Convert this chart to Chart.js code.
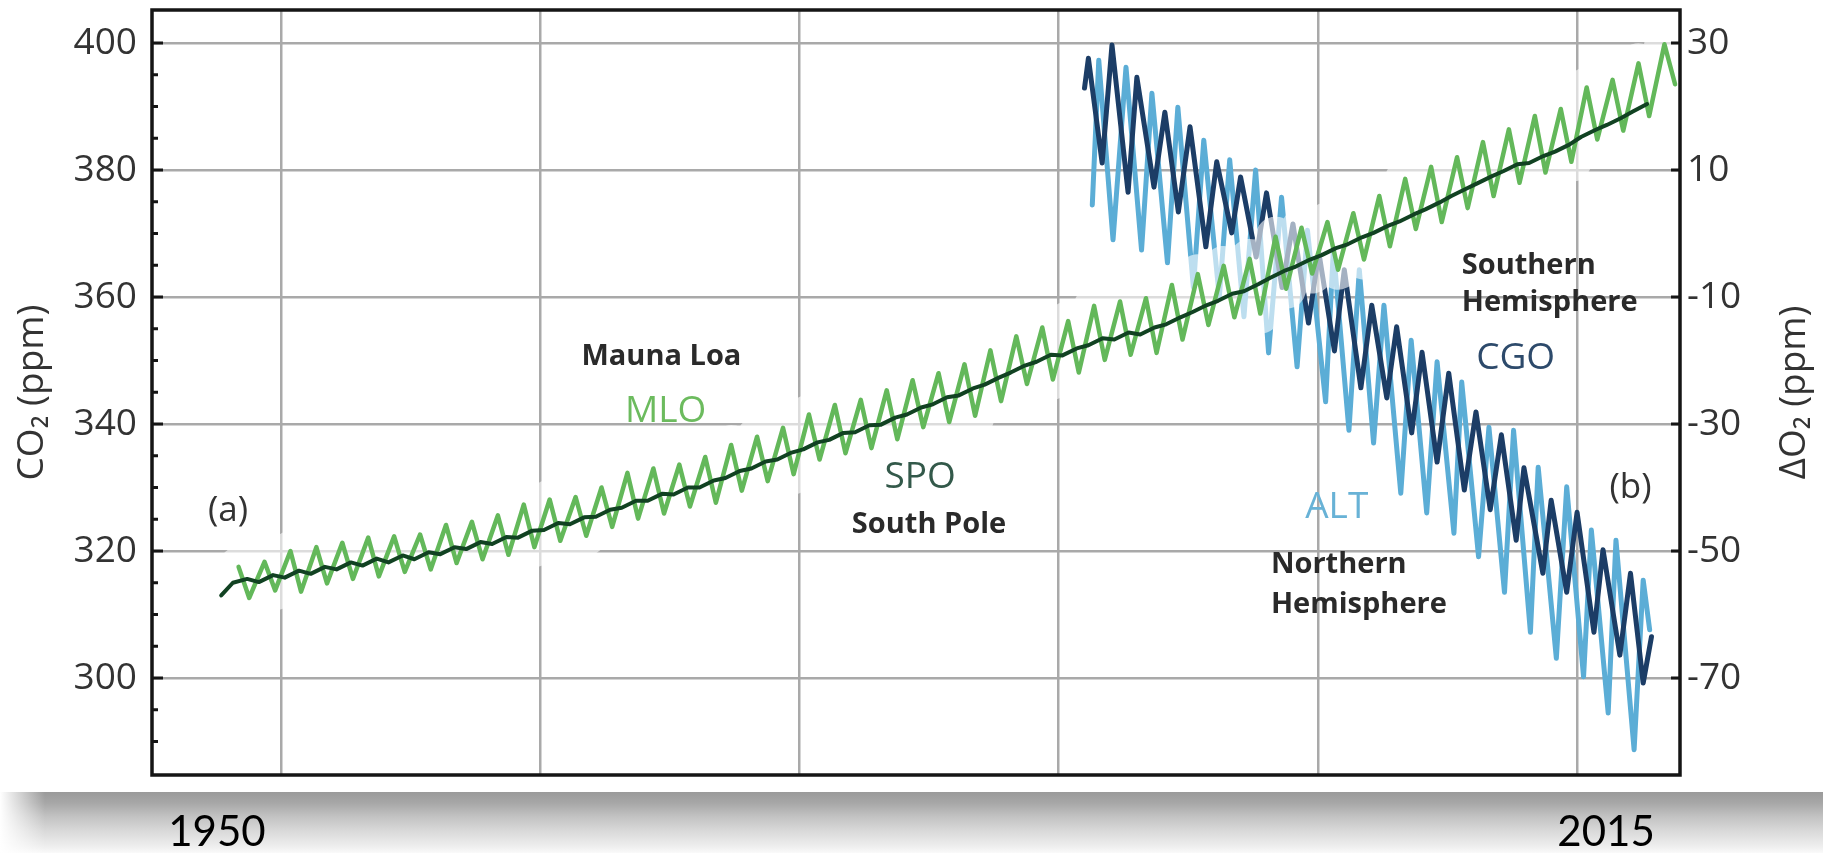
<!DOCTYPE html>
<html>
<head>
    <title>CO2 and O2 records</title>
    <script src="https://cdn.jsdelivr.net/npm/chart.js"></script>
    <style>
        html, body { margin: 0; padding: 0; background: #ffffff; }
        #wrap { width: 1823px; height: 853px; }
    </style>
</head>
<body>
<div id="wrap"><canvas id="chart" width="1823" height="853"></canvas></div>
<script>
// Mauna Loa CO2 (ppm): May high and October low for each year
const mloYears = [1958, 1959, 1960, 1961, 1962, 1963, 1964, 1965, 1966, 1967, 1968, 1969, 1970, 1971,
    1972, 1973, 1974, 1975, 1976, 1977, 1978, 1979, 1980, 1981, 1982, 1983, 1984, 1985, 1986, 1987,
    1988, 1989, 1990, 1991, 1992, 1993, 1994, 1995, 1996, 1997, 1998, 1999, 2000, 2001, 2002, 2003,
    2004, 2005, 2006, 2007, 2008, 2009, 2010, 2011, 2012, 2013];
const mloMay = [317.5, 318.3, 320.0, 320.6, 321.3, 322.1, 322.3, 322.6, 324.1, 324.6, 325.6, 327.3, 328.1, 328.5,
    330.0, 332.3, 333.0, 333.6, 334.8, 336.7, 338.0, 339.4, 341.5, 343.0, 343.8, 345.3, 346.9, 348.0, 349.4, 351.6,
    353.8, 355.2, 356.2, 358.6, 359.3, 359.8, 361.9, 363.6, 364.9, 366.0, 369.5, 370.9, 371.8, 373.2, 375.9, 378.6,
    380.5, 382.0, 384.4, 386.4, 388.5, 389.6, 393.0, 394.2, 396.8, 399.8];
const mloOct = [312.6, 313.8, 313.6, 314.9, 315.6, 316.0, 316.7, 317.1, 318.1, 318.7, 319.4, 320.6, 321.6, 322.4,
    323.8, 325.1, 325.9, 327.0, 327.6, 329.5, 331.0, 332.1, 334.4, 335.4, 336.2, 337.6, 339.5, 340.3, 341.3, 343.6,
    346.3, 347.0, 348.1, 350.1, 350.9, 351.2, 353.3, 355.6, 356.8, 357.4, 361.3, 363.7, 364.3, 365.9, 368.0, 370.7,
    371.8, 374.0, 375.9, 378.0, 379.6, 381.3, 384.8, 386.2, 388.5, 393.5];

// South Pole CO2 (ppm): February low and September high for each year
const spoYears = [1957, 1958, 1959, 1960, 1961, 1962, 1963, 1964, 1965, 1966, 1967, 1968, 1969, 1970,
    1971, 1972, 1973, 1974, 1975, 1976, 1977, 1978, 1979, 1980, 1981, 1982, 1983, 1984, 1985, 1986,
    1987, 1988, 1989, 1990, 1991, 1992, 1993, 1994, 1995, 1996, 1997, 1998, 1999, 2000, 2001, 2002,
    2003, 2004, 2005, 2006, 2007, 2008, 2009, 2010, 2011, 2012];
const spoFeb = [null, 315.0, 315.1, 315.8, 316.4, 317.1, 317.7, 318.2, 318.7, 319.5, 320.3, 321.1, 322.1, 323.3,
    324.2, 325.4, 326.8, 327.9, 328.9, 330.0, 331.5, 333.0, 334.4, 336.0, 337.5, 338.7, 339.9, 341.5, 343.1, 344.5,
    346.2, 348.1, 349.8, 350.8, 352.4, 353.3, 354.1, 355.7, 357.6, 359.4, 360.9, 363.0, 364.8, 366.6, 368.3, 370.1,
    371.9, 373.8, 375.9, 377.9, 379.8, 381.1, 382.9, 385.2, 387.1, 389.2];
const spoSep = [313.0, 315.6, 316.2, 316.9, 317.5, 318.2, 318.8, 319.3, 319.8, 320.6, 321.4, 322.2, 323.2, 324.4,
    325.3, 326.5, 327.9, 329.0, 330.0, 331.1, 332.6, 334.1, 335.5, 337.1, 338.6, 339.8, 341.0, 342.6, 344.2, 345.6,
    347.3, 349.2, 350.9, 351.9, 353.5, 354.4, 355.2, 356.8, 358.7, 360.5, 362.0, 364.1, 365.9, 367.7, 369.4, 371.2,
    373.0, 374.9, 377.0, 379.0, 380.9, 382.2, 384.0, 386.3, 388.2, 390.4];

// Alert delta O2 (ppm), turning points
const altTime = [1991.3, 1991.55, 1992.1, 1992.6, 1993.2, 1993.6, 1994.2, 1994.6, 1995.2, 1995.6,
    1996.2, 1996.6, 1997.15, 1997.6, 1998.1, 1998.6, 1999.2, 1999.6, 2000.3, 2000.6,
    2001.2, 2001.6, 2002.15, 2002.55, 2003.2, 2003.6, 2004.2, 2004.6, 2005.25, 2005.55,
    2006.2, 2006.6, 2007.2, 2007.55, 2008.2, 2008.5, 2009.2, 2009.6, 2010.25, 2010.55,
    2011.2, 2011.5, 2012.2, 2012.55, 2012.8];
const altO2 = [4.5, 27.3, -1.0, 26.2, -2.6, 22.1, -4.6, 19.9, -8.5, 14.7,
    -10.0, 11.6, -13.1, 10.0, -18.8, 5.7, -21.0, 0.5, -26.5, -2.5,
    -31.0, -5.7, -33.0, -11.3, -40.9, -16.8, -44.0, -20.2, -47.2, -23.4,
    -50.9, -30.5, -56.5, -31.0, -62.8, -36.8, -66.9, -39.9, -69.8, -46.7,
    -75.5, -48.3, -81.3, -54.6, -62.4];

// Cape Grim delta O2 (ppm), turning points
const cgoTime = [1991.0, 1991.15, 1991.68, 1992.06, 1992.68, 1993.02, 1993.68, 1994.1, 1994.62, 1995.07,
    1995.68, 1996.1, 1996.68, 1997.02, 1997.62, 1998.02, 1998.62, 1999.04, 1999.64, 2000.04,
    2000.64, 2001.02, 2001.66, 2002.08, 2002.66, 2003.04, 2003.62, 2004.02, 2004.6, 2005.05,
    2005.65, 2006.1, 2006.65, 2007.08, 2007.65, 2007.95, 2008.68, 2009.0, 2009.6, 2010.0,
    2010.65, 2011.0, 2011.65, 2012.06, 2012.55, 2012.87];
const cgoO2 = [22.9, 27.6, 11.1, 29.7, 6.5, 24.6, 7.3, 19.1, 3.4, 16.8,
    -2.1, 11.3, 0.1, 8.9, -3.7, 6.4, -8.5, 1.5, -14.1, -3.0,
    -18.5, -5.7, -24.3, -11.3, -25.9, -14.7, -31.4, -18.7, -36.0, -22.0,
    -40.4, -28.1, -43.5, -31.7, -48.3, -36.9, -53.5, -42.0, -56.5, -43.9,
    -62.8, -49.8, -66.4, -53.5, -70.8, -63.5];

// axes
const xGridYears = [1960, 1970, 1980, 1990, 2000, 2010];
const co2Ticks = [300, 320, 340, 360, 380, 400];
const co2MinorTicks = [290, 295, 305, 310, 315, 325, 330, 335, 345, 350, 355, 365, 370, 375, 385, 390, 395];
const o2Ticks = [30, 10, -10, -30, -50, -70];
const bottomYears = [1950, 2015];

const FONT = '"Open Sans", "Noto Sans", "DejaVu Sans", sans-serif';
const CO2_MIN = 284.72, CO2_MAX = 405.2;
const O2_SHIFT = 370;   // right axis = left axis - 370

// seasonal offsets within the year
const MAY = 0.37, OCT = 0.78, FEB = 0.15, SEP = 0.7;

function seasonal(years, a, b, offA, offB) {
    const pts = [];
    years.forEach((yr, i) => {
        if (a[i] != null) pts.push({ x: yr + offA, y: a[i] });
        if (b[i] != null) pts.push({ x: yr + offB, y: b[i] });
    });
    return pts;
}
function pairs(t, v) {
    return t.map((x, i) => ({ x: x, y: v[i] }));
}

const mloPoints = seasonal(mloYears, mloMay, mloOct, MAY, OCT);

// text labels inside the plot, placed in data units
const notes = [
    { text: '(a)', year: 1957.96, ppm: 326.3, size: 35, weight: 'normal', color: '#333333', align: 'center' },
    { text: '(b)', year: 2012.06, ppm: 329.9, size: 35, weight: 'normal', color: '#333333', align: 'center' },
    { text: 'Mauna Loa', year: 1974.68, ppm: 350.55, size: 29, weight: 'bold', color: '#2a2a2a', align: 'center' },
    { text: 'MLO', year: 1974.84, ppm: 341.9, size: 37, weight: 'normal', color: '#6cbb5e', align: 'center' },
    { text: 'SPO', year: 1984.66, ppm: 331.65, size: 37, weight: 'normal', color: '#33594a', align: 'center' },
    { text: 'South Pole', year: 1985.0, ppm: 324.1, size: 29, weight: 'bold', color: '#2a2a2a', align: 'center' },
    { text: 'Southern', year: 2005.55, ppm: 365.0, size: 29, weight: 'bold', color: '#2a2a2a', align: 'left' },
    { text: 'Hemisphere', year: 2005.55, ppm: 359.06, size: 29, weight: 'bold', color: '#2a2a2a', align: 'left' },
    { text: 'CGO', year: 2007.63, ppm: 350.4, size: 37, weight: 'normal', color: '#2d4a6b', align: 'center' },
    { text: 'ALT', year: 2000.73, ppm: 326.9, size: 37, weight: 'normal', color: '#68b2d6', align: 'center' },
    { text: 'Northern', year: 1998.19, ppm: 317.8, size: 29, weight: 'bold', color: '#2a2a2a', align: 'left' },
    { text: 'Hemisphere', year: 1998.19, ppm: 311.5, size: 29, weight: 'bold', color: '#2a2a2a', align: 'left' }
];

const decor = {
    id: 'decor',
    beforeDraw(chart) {
        const ctx = chart.ctx;
        const top = chart.chartArea.bottom + 17;
        ctx.save();
        const g = ctx.createLinearGradient(0, top, 0, chart.height);
        g.addColorStop(0, '#9a9a9a');
        g.addColorStop(0.18, '#a7a7a7');
        g.addColorStop(0.4, '#c2c2c2');
        g.addColorStop(0.65, '#dadada');
        g.addColorStop(0.9, '#efefef');
        g.addColorStop(1, '#fafafa');
        ctx.fillStyle = g;
        ctx.fillRect(0, top, chart.width, chart.height - top);
        const h = ctx.createLinearGradient(0, 0, 45, 0);
        h.addColorStop(0, 'rgba(255,255,255,1)');
        h.addColorStop(1, 'rgba(255,255,255,0)');
        ctx.fillStyle = h;
        ctx.fillRect(0, top, 45, chart.height - top);
        ctx.restore();
    },
    afterDatasetsDraw(chart) {
        const { ctx, chartArea: a, scales } = chart;
        ctx.save();
        // plot frame
        ctx.strokeStyle = '#151515';
        ctx.lineWidth = 3.5;
        ctx.strokeRect(a.left, a.top, a.right - a.left, a.bottom - a.top);
        // inward tick marks
        ctx.lineWidth = 3;
        ctx.beginPath();
        co2Ticks.forEach(v => {
            const py = scales.y.getPixelForValue(v);
            ctx.moveTo(a.left, py); ctx.lineTo(a.left + 11, py);
        });
        co2MinorTicks.forEach(v => {
            const py = scales.y.getPixelForValue(v);
            ctx.moveTo(a.left, py); ctx.lineTo(a.left + 6, py);
        });
        o2Ticks.forEach(v => {
            const py = scales.y2.getPixelForValue(v);
            ctx.moveTo(a.right, py); ctx.lineTo(a.right - 9, py);
        });
        ctx.stroke();
        // labels
        ctx.textBaseline = 'middle';
        notes.forEach(n => {
            ctx.font = n.weight + ' ' + n.size + 'px ' + FONT;
            ctx.fillStyle = n.color;
            ctx.textAlign = n.align;
            ctx.fillText(n.text, scales.x.getPixelForValue(n.year), scales.y.getPixelForValue(n.ppm));
        });
        // right axis title, reading bottom to top
        ctx.translate(scales.y2.right - 29, (a.top + a.bottom) / 2);
        ctx.rotate(-Math.PI / 2);
        ctx.font = '37px ' + FONT;
        ctx.fillStyle = '#333333';
        ctx.textAlign = 'center';
        ctx.fillText('ΔO₂ (ppm)', 0, 0);
        ctx.restore();
    }
};

const gridColor = '#a9a9a9';
const noEdgePadding = s => { s.paddingTop = 0; s.paddingBottom = 0; };

new Chart(document.getElementById('chart'), {
    type: 'line',
    data: {
        datasets: [
            { label: 'SPO', data: seasonal(spoYears, spoFeb, spoSep, FEB, SEP), yAxisID: 'y',
              borderColor: '#114222', borderWidth: 4 },
            { label: 'MLO', data: mloPoints, yAxisID: 'y',
              borderColor: '#63b85a', borderWidth: 4.5 },
            // soft white band behind the CO2 records
            { label: 'halo', data: mloPoints, yAxisID: 'y',
              borderColor: 'rgba(255,255,255,0.6)', borderWidth: 40 },
            { label: 'CGO', data: pairs(cgoTime, cgoO2), yAxisID: 'y2',
              borderColor: '#1c3d66', borderWidth: 5 },
            { label: 'ALT', data: pairs(altTime, altO2), yAxisID: 'y2',
              borderColor: '#5badd6', borderWidth: 5 }
        ]
    },
    options: {
        responsive: false,
        animation: false,
        events: [],
        layout: { padding: { top: 10, left: 0, right: 0, bottom: 0 } },
        elements: {
            point: { radius: 0 },
            line: { tension: 0, borderJoinStyle: 'round', borderCapStyle: 'round' }
        },
        plugins: { legend: { display: false }, tooltip: { enabled: false } },
        scales: {
            x: {
                type: 'linear', position: 'bottom', min: 1955.03, max: 2013.97,
                afterBuildTicks: s => { s.ticks = xGridYears.map(v => ({ value: v })); },
                afterFit: s => { s.height = 0; s.paddingLeft = 0; s.paddingRight = 0; },
                ticks: { display: false },
                grid: { color: gridColor, lineWidth: 2.5, drawTicks: false },
                border: { display: false }
            },
            x2: {
                type: 'linear', position: 'bottom', min: 1946.96, max: 2018.46,
                afterBuildTicks: s => { s.ticks = bottomYears.map(v => ({ value: v })); },
                afterFit: s => { s.height = 78; s.paddingLeft = 0; s.paddingRight = 0; },
                ticks: { color: '#000000', font: { family: 'Lato, "Open Sans", sans-serif', size: 42 },
                         padding: 32, maxRotation: 0, autoSkip: false, callback: v => String(v) },
                grid: { display: false, drawTicks: false },
                border: { display: false }
            },
            y: {
                type: 'linear', position: 'left', min: CO2_MIN, max: CO2_MAX,
                afterBuildTicks: s => { s.ticks = co2Ticks.map(v => ({ value: v })); },
                afterFit: s => { s.width = 152; noEdgePadding(s); },
                ticks: { color: '#333333', font: { family: FONT, size: 37 }, padding: 15 },
                grid: { color: gridColor, lineWidth: 2.5, drawTicks: false },
                border: { display: false },
                title: { display: true, text: 'CO₂ (ppm)', color: '#333333',
                         font: { family: FONT, size: 37 }, padding: { top: 10, bottom: 0 } }
            },
            y2: {
                type: 'linear', position: 'right', min: CO2_MIN - O2_SHIFT, max: CO2_MAX - O2_SHIFT,
                afterBuildTicks: s => { s.ticks = o2Ticks.map(v => ({ value: v })); },
                afterFit: s => { s.width = 143; noEdgePadding(s); },
                ticks: { color: '#333333', font: { family: FONT, size: 37 }, padding: 7 },
                grid: { display: false, drawTicks: false },
                border: { display: false }
            }
        }
    },
    plugins: [decor]
});
</script>
</body>
</html>
